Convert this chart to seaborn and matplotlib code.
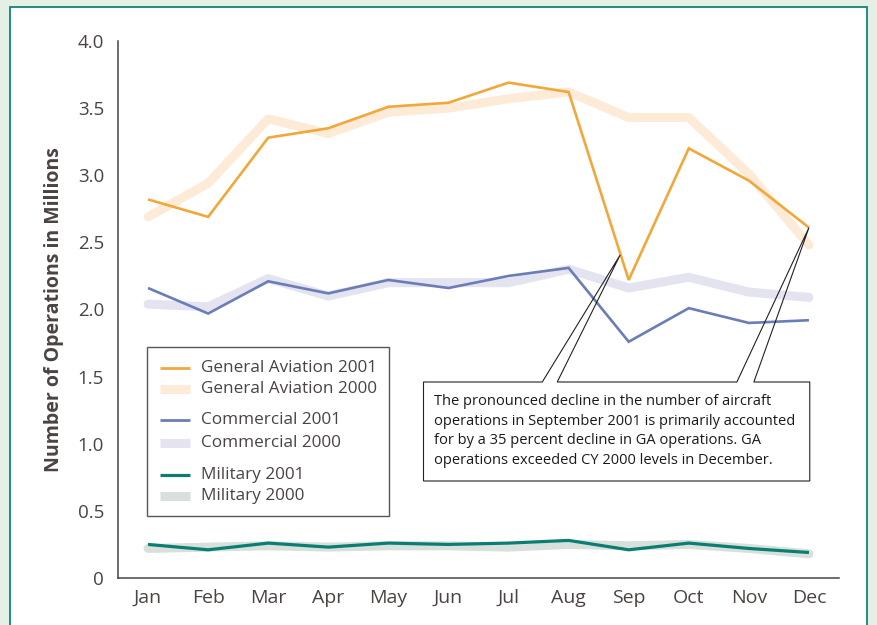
import numpy as np
import pandas as pd
import seaborn as sns
import matplotlib
matplotlib.use("Agg")
import matplotlib.pyplot as plt
from matplotlib.patches import Rectangle, Polygon
from matplotlib.lines import Line2D

# ---------------- data ----------------
months = ["Jan", "Feb", "Mar", "Apr", "May", "Jun", "Jul", "Aug", "Sep", "Oct", "Nov", "Dec"]
ga_2001 = [2.82, 2.69, 3.28, 3.35, 3.51, 3.54, 3.69, 3.62, 2.22, 3.20, 2.96, 2.61]
ga_2000 = [2.69, 2.94, 3.42, 3.31, 3.47, 3.50, 3.57, 3.62, 3.43, 3.43, 3.01, 2.48]
com_2001 = [2.16, 1.97, 2.21, 2.12, 2.22, 2.16, 2.25, 2.31, 1.76, 2.01, 1.90, 1.92]
com_2000 = [2.04, 2.02, 2.23, 2.10, 2.20, 2.20, 2.20, 2.30, 2.16, 2.24, 2.13, 2.09]
mil_2001 = [0.25, 0.21, 0.26, 0.23, 0.26, 0.25, 0.26, 0.28, 0.21, 0.26, 0.22, 0.19]
mil_2000 = [0.22, 0.23, 0.24, 0.23, 0.24, 0.24, 0.23, 0.25, 0.24, 0.25, 0.22, 0.18]
y_ticks = [0, 0.5, 1.0, 1.5, 2.0, 2.5, 3.0, 3.5, 4.0]
y_tick_labels = ["0", "0.5", "1.0", "1.5", "2.0", "2.5", "3.0", "3.5", "4.0"]
note = ("The pronounced decline in the number of aircraft\n"
        "operations in September 2001 is primarily accounted\n"
        "for by a 35 percent decline in GA operations. GA\n"
        "operations exceeded CY 2000 levels in December.")
y_label = "Number of Operations in Millions"

# ---------------- style ----------------
sns.set_style("white")
FONT = ["Open Sans", "DejaVu Sans"]
plt.rcParams["font.family"] = FONT
TXT = "#4a4341"

C_GA1, C_GA0 = "#F2A73B", "#FDEBD7"
C_CO1, C_CO0 = "#6A7DB6", "#E3E4EF"
C_MI1, C_MI0 = "#0B7E73", "#D8E0DC"

W, H = 877, 625
fig = plt.figure(figsize=(W / 100, H / 100), dpi=100)
fig.patch.set_facecolor("#E4EFE6")

def fx(px):
    return px / W

def fy(py):
    return 1 - py / H

# white panel with teal border
fig.add_artist(Rectangle((fx(10), -0.05), fx(867) - fx(10), fy(7) + 0.05,
                         transform=fig.transFigure, facecolor="white",
                         edgecolor="#1F8C7E", lw=1.4, zorder=0))

ax = fig.add_axes([fx(118), fy(578), fx(839) - fx(118), fy(41) - fy(578)])
ax.set_facecolor("none")

x = np.arange(len(months))
df = pd.DataFrame({"month": x, "ga01": ga_2001, "ga00": ga_2000,
                   "co01": com_2001, "co00": com_2000,
                   "mi01": mil_2001, "mi00": mil_2000})

wide = dict(lw=6.5, solid_capstyle="round", solid_joinstyle="round")
thin = dict(lw=1.9, solid_capstyle="butt", solid_joinstyle="miter")
sns.lineplot(data=df, x="month", y="ga00", color=C_GA0, ax=ax, zorder=2, **wide)
sns.lineplot(data=df, x="month", y="co00", color=C_CO0, ax=ax, zorder=2, **wide)
sns.lineplot(data=df, x="month", y="mi00", color=C_MI0, ax=ax, zorder=2, **wide)
sns.lineplot(data=df, x="month", y="ga01", color=C_GA1, ax=ax, zorder=3, **thin)
sns.lineplot(data=df, x="month", y="co01", color=C_CO1, ax=ax, zorder=3, **thin)
sns.lineplot(data=df, x="month", y="mi01", color=C_MI1, ax=ax, zorder=3,
             lw=2.3, solid_capstyle="butt")

ax.set_xlim(-0.5, 11.5)
ax.set_ylim(0, 4.0)
ax.set_xticks(x)
ax.set_xticklabels(months, fontsize=14, color=TXT)
ax.set_xticks(np.arange(0.5, 12, 1), minor=True)
ax.tick_params(axis="x", which="major", length=0, pad=8)
ax.tick_params(axis="x", which="minor", direction="in", length=6, width=1, color=TXT)
ax.set_yticks(y_ticks)
ax.set_yticklabels(y_tick_labels, fontsize=13.5, color=TXT)
ax.tick_params(axis="y", direction="out", length=6, width=1, color=TXT, pad=4)
ax.set_xlabel("")
ax.set_ylabel(y_label, fontsize=14, fontweight="bold", color=TXT, labelpad=10)
for s in ["top", "right"]:
    ax.spines[s].set_visible(False)
for s in ["left", "bottom"]:
    ax.spines[s].set_color(TXT)
    ax.spines[s].set_linewidth(1.1)

# ---------------- legend (drawn by hand in figure coords) ----------------
fig.add_artist(Rectangle((fx(147), fy(516)), fx(389) - fx(147), fy(347) - fy(516),
                         transform=fig.transFigure, facecolor="white",
                         edgecolor="#5b5553", lw=1.0, zorder=5))
leg_rows = [("General Aviation 2001", C_GA1, 2.0, 368),
            ("General Aviation 2000", C_GA0, 6.5, 389),
            ("Commercial 2001", C_CO1, 2.0, 420),
            ("Commercial 2000", C_CO0, 6.5, 443),
            ("Military 2001", C_MI1, 2.3, 475),
            ("Military 2000", C_MI0, 6.5, 496)]
for lab, col, lw, py in leg_rows:
    fig.add_artist(Line2D([fx(160), fx(190)], [fy(py), fy(py)], transform=fig.transFigure,
                          color=col, lw=lw, solid_capstyle="butt", zorder=6))
    fig.text(fx(201), fy(py), lab, fontsize=12.3, color=TXT, va="center", ha="left", zorder=6)

# ---------------- callout ----------------
def dx(px):
    return (px - 148) / 60.2

def dy(py):
    return (578 - py) / 134.25

sep_tip = (dx(621), dy(255))
dec_tip = (11, ga_2001[11])
poly = [(dx(424), dy(382)), (dx(543), dy(382)), sep_tip, (dx(558), dy(382)),
        (dx(738), dy(382)), dec_tip, (dx(755), dy(382)), (dx(811), dy(382)),
        (dx(811), dy(481)), (dx(424), dy(481))]
ax.add_patch(Polygon(poly, closed=True, fill=False, edgecolor="#222222", lw=0.8,
                     zorder=6, clip_on=False))
ax.text(dx(435), dy(394), note, fontsize=10.5, color="#1a1a1a", va="top", ha="left",
        linespacing=1.42, zorder=7)

fig.savefig("out.png", dpi=100)
